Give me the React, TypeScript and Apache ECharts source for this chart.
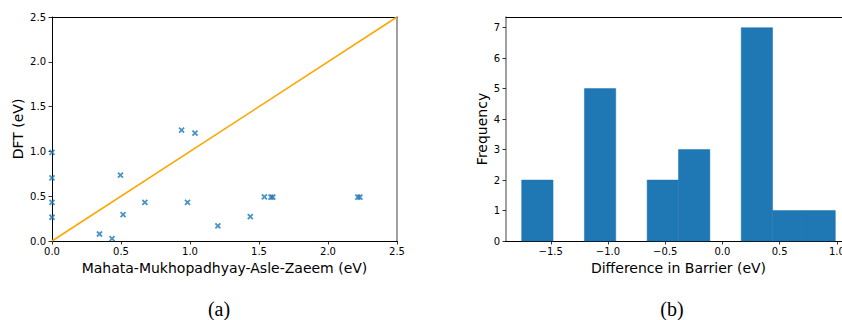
import React, { useEffect, useRef } from "react";
import * as echarts from "echarts";

// Panel (a): scatter of DFT vs Mahata-Mukhopadhyay-Asle-Zaeem barriers (eV)
const mmazValues = [0.0, 0.0, 0.0, 0.0, 0.496, 0.344, 0.435, 0.515, 0.673, 0.982, 1.202, 1.437, 1.539, 1.587, 1.6, 2.216, 2.231, 0.939, 1.036];
const dftValues = [0.99, 0.705, 0.43, 0.265, 0.735, 0.078, 0.027, 0.295, 0.43, 0.43, 0.168, 0.273, 0.492, 0.49, 0.49, 0.49, 0.49, 1.238, 1.205];
const parityLine = [[0, 0], [2.5, 2.5]];
const scatterTicks = [0, 0.5, 1.0, 1.5, 2.0, 2.5];

// Panel (b): histogram of the difference in barrier (eV)
const binEdges = [-1.754, -1.48, -1.206, -0.932, -0.658, -0.384, -0.11, 0.164, 0.438, 0.712, 0.986];
const binCounts = [2, 0, 5, 0, 2, 3, 0, 7, 1, 1];
const histXTicks = [-1.5, -1.0, -0.5, 0.0, 0.5, 1.0];
const histYTicks = [0, 1, 2, 3, 4, 5, 6, 7];

const BLUE = "#1f77b4";
const TICK_FONT = { fontFamily: "DejaVu Sans", fontSize: 10, color: "#000" };
const NAME_FONT = "14px 'DejaVu Sans'";

export default function App() {
  const ref = useRef<HTMLDivElement>(null);
  useEffect(() => {
    if (!ref.current) return;
    const chart = echarts.init(ref.current, null, { renderer: "svg" });

    const tickStyle = { show: true, inside: false, length: 3.5, lineStyle: { color: "#000", width: 0.8 } };
    const lineOnly = (color: string, width = 1) => ({
      axisLine: { show: true, onZero: false, lineStyle: { color, width } },
      axisTick: { show: false },
      axisLabel: { show: false },
      splitLine: { show: false },
    });

    const histData = binCounts.map((c, i) => [binEdges[i], binEdges[i + 1], c]);
    const scatterData = mmazValues.map((x, i) => [x, dftValues[i]]);

    const option: any = {
      animation: false,
      grid: [
        { left: 52, top: 17, width: 345, height: 224 },
        { left: 506, top: 17, width: 345, height: 224 },
      ],
      xAxis: [
        {
          gridIndex: 0, type: "value", min: 0, max: 2.5, interval: 0.5, position: "bottom",
          axisLine: { show: true, onZero: false, lineStyle: { color: "#000", width: 1 } },
          axisTick: { ...tickStyle, customValues: scatterTicks },
          axisLabel: { ...TICK_FONT, margin: 5, customValues: scatterTicks, formatter: (v: number) => v.toFixed(1) },
          splitLine: { show: false },
        },
        { gridIndex: 0, type: "value", min: 0, max: 2.5, position: "top", ...lineOnly("#000", 1.2) },
        {
          gridIndex: 1, type: "value", min: -1.891, max: 1.123, position: "bottom",
          axisLine: { show: true, onZero: false, lineStyle: { color: "#000", width: 1 } },
          axisTick: { ...tickStyle, customValues: histXTicks },
          axisLabel: {
            ...TICK_FONT, margin: 5, customValues: histXTicks,
            formatter: (v: number) => (v < 0 ? "\u2212" + Math.abs(v).toFixed(1) : v.toFixed(1)),
          },
          splitLine: { show: false },
        },
        { gridIndex: 1, type: "value", min: -1.891, max: 1.123, position: "top", ...lineOnly("#000", 1.2) },
      ],
      yAxis: [
        {
          gridIndex: 0, type: "value", min: 0, max: 2.5, position: "left",
          axisLine: { show: true, onZero: false, lineStyle: { color: "#000", width: 1 } },
          axisTick: { ...tickStyle, customValues: scatterTicks },
          axisLabel: { ...TICK_FONT, margin: 6, customValues: scatterTicks, formatter: (v: number) => v.toFixed(1) },
          splitLine: { show: false },
        },
        { gridIndex: 0, type: "value", min: 0, max: 2.5, position: "right", ...lineOnly("#808080", 1.5) },
        {
          gridIndex: 1, type: "value", min: 0, max: 7.35, position: "left",
          axisLine: { show: true, onZero: false, lineStyle: { color: "#808080", width: 1.5 } },
          axisTick: { ...tickStyle, customValues: histYTicks },
          axisLabel: { ...TICK_FONT, margin: 6, customValues: histYTicks, formatter: (v: number) => String(v) },
          splitLine: { show: false },
        },
      ],
      series: [
        {
          type: "line", xAxisIndex: 0, yAxisIndex: 0, data: parityLine, symbol: "none",
          lineStyle: { color: "#FFA500", width: 1.5 }, z: 2,
        },
        {
          type: "scatter", xAxisIndex: 0, yAxisIndex: 0, data: scatterData, clip: true,
          symbol: "path://M0,0L10,10M0,10L10,0", symbolSize: 5,
          itemStyle: { color: BLUE, borderColor: BLUE, borderWidth: 1.8 }, z: 3,
        },
        {
          type: "custom", xAxisIndex: 2, yAxisIndex: 2, data: histData,
          encode: { x: [0, 1], y: 2 },
          renderItem: (params: any, api: any) => {
            const x0 = api.value(0), x1 = api.value(1), c = api.value(2);
            if (!c) return null;
            const p0 = api.coord([x0, c]);
            const p1 = api.coord([x1, 0]);
            return {
              type: "rect",
              shape: { x: p0[0], y: p0[1], width: p1[0] - p0[0], height: p1[1] - p0[1] },
              style: { fill: BLUE, stroke: BLUE, lineWidth: 0.5 },
            };
          },
        },
      ],
      graphic: [
        { type: "text", x: 18, y: 129, rotation: Math.PI / 2, style: { text: "DFT (eV)", font: NAME_FONT, fill: "#000", textAlign: "center", textVerticalAlign: "middle" } },
        { type: "text", x: 224.5, y: 268, style: { text: "Mahata-Mukhopadhyay-Asle-Zaeem (eV)", font: NAME_FONT, fill: "#000", textAlign: "center", textVerticalAlign: "middle" } },
        { type: "text", x: 482, y: 129, rotation: Math.PI / 2, style: { text: "Frequency", font: NAME_FONT, fill: "#000", textAlign: "center", textVerticalAlign: "middle" } },
        { type: "text", x: 678.5, y: 268, style: { text: "Difference in Barrier (eV)", font: NAME_FONT, fill: "#000", textAlign: "center", textVerticalAlign: "middle" } },
        { type: "text", x: 219, y: 309, style: { text: "(a)", font: "20px 'Liberation Serif'", fill: "#000", textAlign: "center", textVerticalAlign: "middle" } },
        { type: "text", x: 672, y: 309, style: { text: "(b)", font: "20px 'Liberation Serif'", fill: "#000", textAlign: "center", textVerticalAlign: "middle" } },
      ],
    };
    chart.setOption(option);
    return () => chart.dispose();
  }, []);
  return (
    <div style={{ position: "absolute", left: 0, top: 0, width: 842, height: 320, overflow: "hidden", background: "#fff" }}>
      <div ref={ref} style={{ width: 880, height: 320 }} />
    </div>
  );
}
